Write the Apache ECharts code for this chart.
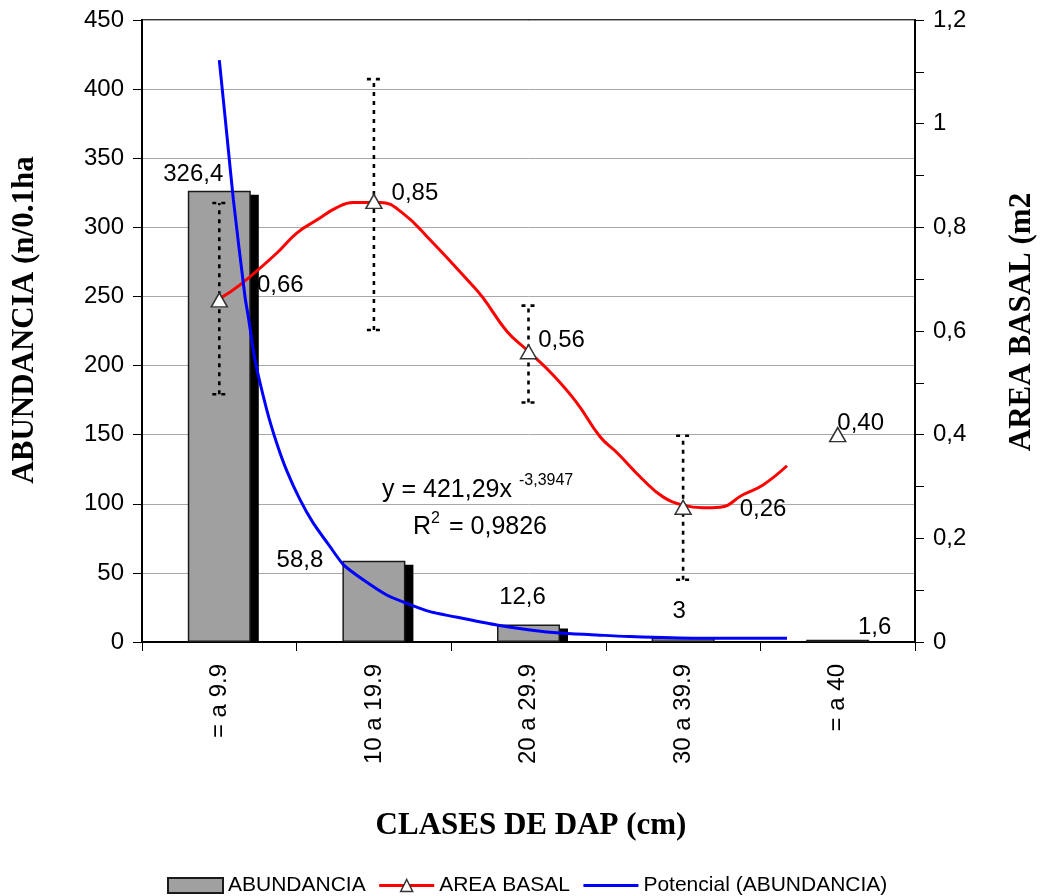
<!DOCTYPE html>
<html>
<head>
<meta charset="utf-8">
<script src="https://cdn.jsdelivr.net/npm/echarts@6/dist/echarts.min.js"></script>
<style>
html,body{margin:0;padding:0;background:#fff;}
#chart{width:1041px;height:896px;}
</style>
</head>
<body>
<div id="chart"></div>
<script>
// ---- data ----
const categories = ['= a 9.9', '10 a 19.9', '20 a 29.9', '30 a 39.9', '= a 40'];
const abundancia = [326.4, 58.8, 12.6, 3, 1.6];
const areaBasal = [0.66, 0.85, 0.56, 0.26, 0.40];
const errLow  = [0.478, 0.602, 0.462, 0.120];
const errHigh = [0.847, 1.086, 0.649, 0.398];
// red smoothed curve (x in category units, 0 = first class), right axis values
const redCurveX = [0.0, 0.134, 0.371, 0.501, 0.630, 0.759, 0.865, 1.04, 1.188, 1.363, 1.622, 1.706, 1.861, 1.991, 2.159, 2.314, 2.463, 2.573, 2.741, 2.870, 3.0, 3.129, 3.239, 3.387, 3.517, 3.672];
const redCurveY = [0.662, 0.689, 0.750, 0.789, 0.814, 0.838, 0.848, 0.848, 0.827, 0.776, 0.693, 0.664, 0.599, 0.563, 0.515, 0.461, 0.396, 0.365, 0.313, 0.280, 0.264, 0.259, 0.260, 0.284, 0.303, 0.340];
// blue power trend (Potencial), left axis values
const blueCurveX = [0, 0.048, 0.091, 0.166, 0.188, 0.231, 0.307, 0.371, 0.436, 0.522, 0.608, 0.716, 0.802, 0.931, 1.083, 1.212, 1.363, 1.579, 1.794, 2.01, 2.223, 2.44, 2.657, 3.088, 3.3, 3.672];
const blueCurveY = [421, 368, 320, 250, 235, 204, 168, 144, 124, 103, 86, 69, 56, 45, 34, 28, 22, 17, 12.3, 8.7, 6.3, 5.1, 3.9, 2.7, 2.7, 2.7];

const FONT = "'Liberation Sans', Arial, sans-serif";
const SERIF = "'Liberation Serif', 'Times New Roman', serif";

const chart = echarts.init(document.getElementById('chart'), null, {renderer: 'canvas'});

const barLabelNudge = [[-26, 1], [-74, 17], [-6, -10], [-4, -9], [37, 5]];
const triLabelNudge = [[61, -15], [41, -8], [33, -11], [80, 2], [23, -11]];
const commaNum = v => String(v).replace('.', ',');

const barData = abundancia.map((v, i) => ({
  value: v,
  label: {offset: barLabelNudge[i]}
}));
const triData = areaBasal.map((v, i) => ({
  value: v,
  label: {offset: triLabelNudge[i]}
}));
const errData = errLow.map((lo, i) => [i, lo, errHigh[i]]);
const shadowData = abundancia.map((v, i) => [i, v]);
const redData = redCurveX.map((x, i) => [x, redCurveY[i]]);
const blueData = blueCurveX.map((x, i) => [x, blueCurveY[i]]);

const BAR_W = 63;

const option = {
  backgroundColor: '#fff',
  animation: false,
  grid: {left: 142, right: 126, top: 20, bottom: 254, show: true, borderColor: '#333', borderWidth: 2, backgroundColor: 'transparent'},
  xAxis: [
    {
      type: 'category', data: categories, boundaryGap: true,
      axisLine: {onZero: false, lineStyle: {color: '#000', width: 2}},
      axisTick: {show: true, length: 9, lineStyle: {color: '#000', width: 1}},
      axisLabel: {rotate: 90, fontSize: 24, margin: 22, color: '#000', fontFamily: FONT},
      splitLine: {show: false}
    },
    {type: 'value', min: -0.5, max: 4.5, show: false, axisLine: {onZero: false}}
  ],
  yAxis: [
    {
      type: 'value', min: 0, max: 450, interval: 50, position: 'left',
      axisLine: {show: true, onZero: false, lineStyle: {color: '#000', width: 2}},
      axisTick: {show: true, length: 9, lineStyle: {color: '#000', width: 1}},
      axisLabel: {fontSize: 24, margin: 18, color: '#000', fontFamily: FONT},
      splitLine: {show: true, lineStyle: {color: '#a8a8a8', width: 1}}
    },
    {
      type: 'value', min: 0, max: 1.2, interval: 0.2, position: 'right',
      axisLine: {show: true, onZero: false, lineStyle: {color: '#000', width: 2}},
      axisTick: {show: true, length: 9, lineStyle: {color: '#000', width: 1}},
      minorTick: {show: true, splitNumber: 2, length: 9, lineStyle: {color: '#000', width: 1}},
      axisLabel: {fontSize: 24, margin: 18, color: '#000', fontFamily: FONT,
        formatter: v => commaNum(+v.toFixed(1))},
      splitLine: {show: false}
    }
  ],
  legend: {
    left: 162, top: 870, itemWidth: 55, itemHeight: 15, itemGap: 12,
    textStyle: {fontSize: 21, color: '#000', fontFamily: FONT},
    data: [
      {name: 'ABUNDANCIA', icon: 'rect'},
      {name: 'AREA BASAL', lineStyle: {color: '#ff0000', width: 3, opacity: 1},
        itemStyle: {color: '#fff', borderColor: '#333', borderWidth: 1.5}},
      {name: 'Potencial (ABUNDANCIA)', lineStyle: {color: '#0000ff', width: 3, opacity: 1},
        itemStyle: {color: 'rgba(0,0,0,0)', borderWidth: 0, opacity: 0}}
    ]
  },
  graphic: [
    {type: 'text', x: 25, y: 320, rotation: Math.PI / 2,
      style: {text: 'ABUNDANCIA (n/0.1ha', font: 'bold 31px ' + SERIF, fill: '#000', align: 'center', verticalAlign: 'middle'}},
    {type: 'text', x: 1022, y: 322, rotation: Math.PI / 2,
      style: {text: 'AREA BASAL (m2', font: 'bold 31px ' + SERIF, fill: '#000', align: 'center', verticalAlign: 'middle'}},
    {type: 'text', x: 531, y: 826,
      style: {text: 'CLASES DE DAP (cm)', font: 'bold 31px ' + SERIF, fill: '#000', align: 'center', verticalAlign: 'middle'}},
    {type: 'text', x: 382, y: 490,
      style: {text: 'y = 421,29x', font: '25px ' + FONT, fill: '#000', align: 'left', verticalAlign: 'middle'}},
    {type: 'text', x: 519, y: 481,
      style: {text: '-3,3947', font: '16px ' + FONT, fill: '#000', align: 'left', verticalAlign: 'middle'}},
    {type: 'text', x: 413, y: 527,
      style: {text: 'R', font: '25px ' + FONT, fill: '#000', align: 'left', verticalAlign: 'middle'}},
    {type: 'text', x: 431, y: 519,
      style: {text: '2', font: '16px ' + FONT, fill: '#000', align: 'left', verticalAlign: 'middle'}},
    {type: 'text', x: 449, y: 527,
      style: {text: '= 0,9826', font: '25px ' + FONT, fill: '#000', align: 'left', verticalAlign: 'middle'}}
  ],
  series: [
    {
      name: 'shadow', type: 'custom', xAxisIndex: 0, yAxisIndex: 0, silent: true,
      data: shadowData, z: 1,
      renderItem: (params, api) => {
        const i = api.value(0), v = api.value(1);
        const top = api.coord([i, v]);
        const base = api.coord([i, 0]);
        const h = Math.max(0, base[1] - top[1] - 4);
        return {type: 'rect', shape: {x: top[0] - BAR_W / 2 + 8, y: top[1] + 4, width: BAR_W, height: h}, style: {fill: '#000'}};
      }
    },
    {
      name: 'ABUNDANCIA', type: 'bar', xAxisIndex: 0, yAxisIndex: 0, barWidth: BAR_W,
      data: barData, z: 2,
      itemStyle: {color: '#a0a0a0', borderColor: '#1a1a1a', borderWidth: 1.5},
      label: {show: true, position: 'top', distance: 5, fontSize: 24, color: '#000', fontFamily: FONT,
        formatter: p => commaNum(p.value)}
    },
    {
      name: 'errors', type: 'custom', xAxisIndex: 0, yAxisIndex: 1, silent: true,
      data: errData, z: 3,
      renderItem: (params, api) => {
        const x = api.value(0);
        const lo = api.coord([x, api.value(1)]);
        const hi = api.coord([x, api.value(2)]);
        const cap = 7;
        const st = {stroke: '#000', lineWidth: 2.6, lineDash: [4, 5], fill: null};
        return {type: 'group', children: [
          {type: 'line', shape: {x1: lo[0], y1: lo[1], x2: hi[0], y2: hi[1]}, style: st},
          {type: 'line', shape: {x1: hi[0] - cap, y1: hi[1], x2: hi[0] + cap, y2: hi[1]}, style: st},
          {type: 'line', shape: {x1: lo[0] - cap, y1: lo[1], x2: lo[0] + cap, y2: lo[1]}, style: st}
        ]};
      }
    },
    {
      name: 'redcurve', type: 'line', xAxisIndex: 1, yAxisIndex: 1, silent: true,
      data: redData, symbol: 'none', smooth: 0.45, z: 4,
      lineStyle: {color: '#ff0000', width: 3}
    },
    {
      name: 'AREA BASAL', type: 'line', xAxisIndex: 0, yAxisIndex: 1,
      data: triData, symbol: 'triangle', symbolSize: [16, 14], showAllSymbol: true,
      lineStyle: {color: '#ff0000', width: 3, opacity: 0},
      itemStyle: {color: '#fff', borderColor: '#333', borderWidth: 1.5},
      label: {show: true, position: 'inside', fontSize: 24, color: '#000', fontFamily: FONT,
        formatter: p => p.value.toFixed(2).replace('.', ',')},
      z: 5
    },
    {
      name: 'Potencial (ABUNDANCIA)', type: 'line', xAxisIndex: 1, yAxisIndex: 0,
      data: blueData, symbol: 'none', smooth: 0.2,
      lineStyle: {color: '#0000ff', width: 3},
      itemStyle: {color: '#0000ff'},
      z: 6
    }
  ]
};
chart.setOption(option);
</script>
</body>
</html>
